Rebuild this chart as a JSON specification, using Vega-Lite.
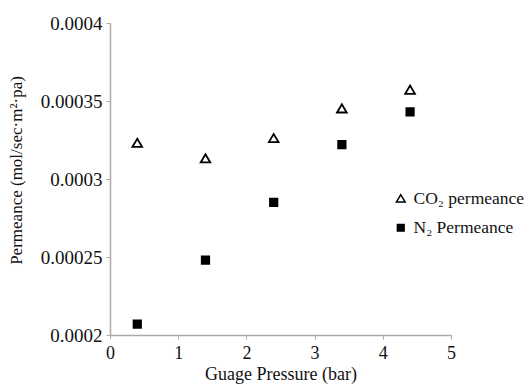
{
  "$schema": "https://vega.github.io/schema/vega-lite/v6.json",
  "width": 341,
  "height": 312,
  "autosize": "none",
  "padding": {"left": 110, "top": 23, "right": 78, "bottom": 52},
  "background": "white",
  "config": {
    "view": {"stroke": null},
    "font": "Liberation Serif",
    "axis": {"grid": false, "domainColor": "#aaaaaa", "tickColor": "#aaaaaa", "domainWidth": 1.5, "tickSize": 4, "labelFlush": false, "labelFont": "Liberation Serif", "titleFont": "Liberation Serif", "labelFontSize": 18, "titleFontSize": 18, "labelColor": "#111", "titleColor": "#111", "titleFontWeight": "normal"}
  },
  "data": {
    "values": [
      {"p": 0.4, "v": 0.000323, "s": "CO₂ permeance"},
      {"p": 1.4, "v": 0.000313, "s": "CO₂ permeance"},
      {"p": 2.4, "v": 0.000326, "s": "CO₂ permeance"},
      {"p": 3.4, "v": 0.000345, "s": "CO₂ permeance"},
      {"p": 4.4, "v": 0.000357, "s": "CO₂ permeance"},
      {"p": 0.4, "v": 0.000207, "s": "N₂ Permeance"},
      {"p": 1.4, "v": 0.000248, "s": "N₂ Permeance"},
      {"p": 2.4, "v": 0.000285, "s": "N₂ Permeance"},
      {"p": 3.4, "v": 0.000322, "s": "N₂ Permeance"},
      {"p": 4.4, "v": 0.000343, "s": "N₂ Permeance"}
    ]
  },
  "mark": {"type": "point", "filled": false, "strokeWidth": 1.8, "size": 55, "opacity": 1},
  "encoding": {
    "x": {"field": "p", "type": "quantitative", "scale": {"domain": [0, 5], "nice": false}, "axis": {"values": [0, 1, 2, 3, 4, 5], "title": "Guage Pressure (bar)", "titlePadding": 3, "labelPadding": 5}},
    "y": {"field": "v", "type": "quantitative", "scale": {"domain": [0.0002, 0.0004], "nice": false, "zero": false}, "axis": {"values": [0.0002, 0.00025, 0.0003, 0.00035, 0.0004], "labelExpr": "datum.value == 0.0002 ? '0.0002' : datum.value == 0.00025 ? '0.00025' : datum.value == 0.0003 ? '0.0003' : datum.value == 0.00035 ? '0.00035' : '0.0004'", "labelFontSize": 19, "title": "Permeance (mol/sec·m²·pa)", "titleFontSize": 17, "titleY": 147, "titlePadding": 15, "labelPadding": 4}},
    "stroke": {"value": "black"},
    "shape": {"field": "s", "type": "nominal", "scale": {"domain": ["CO₂ permeance", "N₂ Permeance"], "range": ["M-1.3,1L0,-1.2L1.3,1Z", "square"]}, "legend": {"title": null, "orient": "none", "legendX": 282, "legendY": 167, "labelFont": "Liberation Serif", "labelFontSize": 17.5, "labelColor": "#111", "rowPadding": 10, "symbolSize": 45, "encode": {"symbols": {"update": {"stroke": {"value": "black"}, "strokeWidth": {"value": 1.5}}}}}},
    "fill": {"field": "s", "type": "nominal", "scale": {"domain": ["CO₂ permeance", "N₂ Permeance"], "range": ["white", "black"]}, "legend": {"title": null, "orient": "none", "legendX": 282, "legendY": 167, "labelFont": "Liberation Serif", "labelFontSize": 17.5, "labelColor": "#111", "rowPadding": 10, "symbolSize": 45, "encode": {"symbols": {"update": {"stroke": {"value": "black"}, "strokeWidth": {"value": 1.5}}}}}}
  }
}
